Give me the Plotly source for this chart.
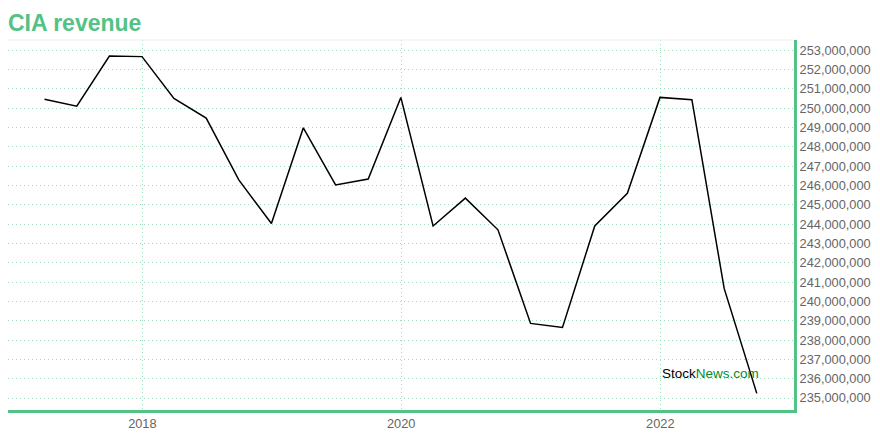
import plotly.graph_objects as go

dates = ["2017-03-31", "2017-06-30", "2017-09-30", "2017-12-31",
         "2018-03-31", "2018-06-30", "2018-09-30", "2018-12-31",
         "2019-03-31", "2019-06-30", "2019-09-30", "2019-12-31",
         "2020-03-31", "2020-06-30", "2020-09-30", "2020-12-31",
         "2021-03-31", "2021-06-30", "2021-09-30", "2021-12-31",
         "2022-03-31", "2022-06-30", "2022-09-30"]
revenue = [250450000, 250100000, 252690000, 252660000,
           250500000, 249480000, 246280000, 244030000,
           248980000, 246020000, 246330000, 250550000,
           243900000, 245340000, 243700000, 238860000,
           238650000, 243900000, 245590000, 250550000,
           250430000, 240670000, 235240000]
y_ticks = list(range(235000000, 253000001, 1000000))
y_tick_labels = [f"{v:,}" for v in y_ticks]
x_ticks = ["2018-01-01", "2020-01-01", "2022-01-01"]
x_tick_labels = ["2018", "2020", "2022"]

GREEN = "#52c285"
GRID = "#9fdcbb"

fig = go.Figure()
fig.add_trace(go.Scatter(x=dates, y=revenue, mode="lines",
                         line=dict(color="black", width=1.5),
                         hoverinfo="x+y"))

fig.update_layout(
    width=872, height=432,
    margin=dict(l=0, r=86, t=32, b=30, autoexpand=False),
    paper_bgcolor="white", plot_bgcolor="white",
    showlegend=False,
    font=dict(family="Liberation Sans, Arial, sans-serif", color="#666666", size=13),
    title=dict(text="<b>CIA revenue</b>", x=0, xanchor="left", y=0.966, yanchor="middle",
               font=dict(size=23, color=GREEN)),
    xaxis=dict(
        type="date",
        range=["2016-12-18", "2023-01-13"],
        tickvals=x_ticks, ticktext=x_tick_labels,
        showgrid=True, gridcolor=GRID, griddash="1px,3px", gridwidth=1,
        showline=True, linecolor=GREEN, linewidth=3,
        ticks="", zeroline=False, automargin=False,
        tickfont=dict(size=12.8, color="#666666"),
    ),
    yaxis=dict(
        side="right",
        range=[234380000, 253520000],
        tickvals=y_ticks, ticktext=y_tick_labels,
        showgrid=True, gridcolor=GRID, griddash="1px,3px", gridwidth=1,
        showline=True, linecolor=GREEN, linewidth=3,
        ticks="", zeroline=False, automargin=False,
        tickfont=dict(size=12.8, color="#666666"),
    ),
    shapes=[dict(type="line", xref="paper", yref="paper", x0=0, x1=1, y0=1, y1=1,
                 line=dict(color="#eeeeee", width=1))],
    annotations=[dict(
        text="<span style='color:black'>Stock</span><span style='color:#008a2e'>News.com</span>",
        xref="paper", yref="paper", x=0.8295, y=0.1, xanchor="left", yanchor="middle",
        showarrow=False, font=dict(size=13.5, family="Liberation Sans, Arial, sans-serif"))],
)

fig.write_html("out.html")
